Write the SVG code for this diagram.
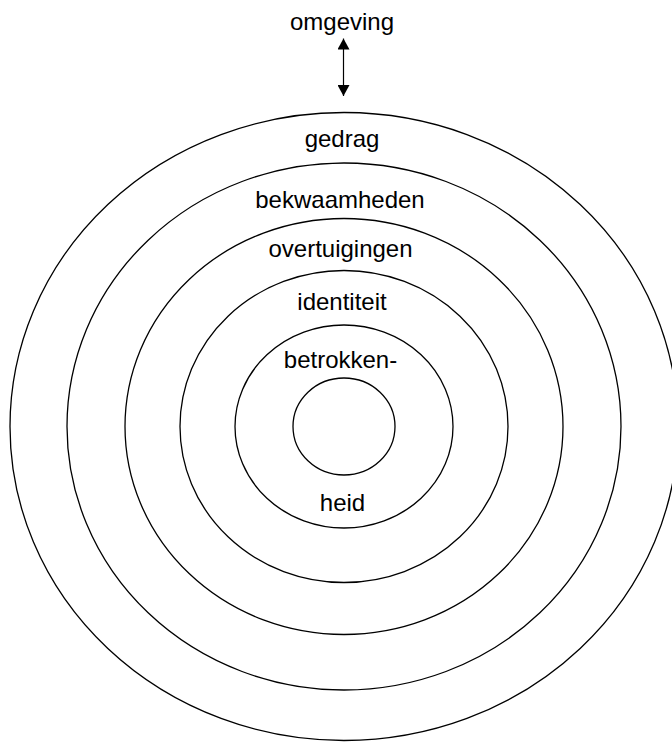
<svg xmlns="http://www.w3.org/2000/svg" width="672" height="742" viewBox="0 0 672 742">
<style>
.ring{fill:none;stroke:#000;stroke-width:1.3}
.lbl{font-family:"Liberation Sans",Arial,sans-serif;font-size:24px;fill:#000;text-anchor:middle}
.conn{stroke:#000;stroke-width:1.2;fill:none}
</style>
<defs>
<marker id="ah" viewBox="0 0 10 10" refX="10" refY="5" markerWidth="11" markerHeight="12" markerUnits="userSpaceOnUse" orient="auto-start-reverse" preserveAspectRatio="none">
<path d="M0,0 L10,5 L0,10 Z" fill="#000"/>
</marker>
</defs>
<rect width="672" height="742" fill="#fff"/>
<g id="omgeving"><text class="lbl" x="342" y="30">omgeving</text></g>
<g id="gedrag"><ellipse class="ring" cx="344" cy="426.5" rx="334" ry="314"/><text class="lbl" x="342" y="147">gedrag</text></g>
<g id="bekwaamheden"><ellipse class="ring" cx="344" cy="426.5" rx="277" ry="263.5"/><text class="lbl" x="340" y="208">bekwaamheden</text></g>
<g id="overtuigingen"><ellipse class="ring" cx="344" cy="426.5" rx="219" ry="208"/><text class="lbl" x="340.5" y="257">overtuigingen</text></g>
<g id="identiteit"><ellipse class="ring" cx="344" cy="426.5" rx="164" ry="156"/><text class="lbl" x="342" y="310">identiteit</text></g>
<g id="betrokkenheid"><ellipse class="ring" cx="344" cy="426.5" rx="109" ry="101.5"/><text class="lbl" x="340.5" y="368">betrokken-</text><text class="lbl" x="342.5" y="511">heid</text></g>
<g id="kern"><ellipse class="ring" cx="344" cy="426.5" rx="51" ry="48.5"/></g>
<g id="connectors"><line class="conn" x1="343.5" y1="38.5" x2="343.5" y2="96" marker-start="url(#ah)" marker-end="url(#ah)"/></g>
</svg>
